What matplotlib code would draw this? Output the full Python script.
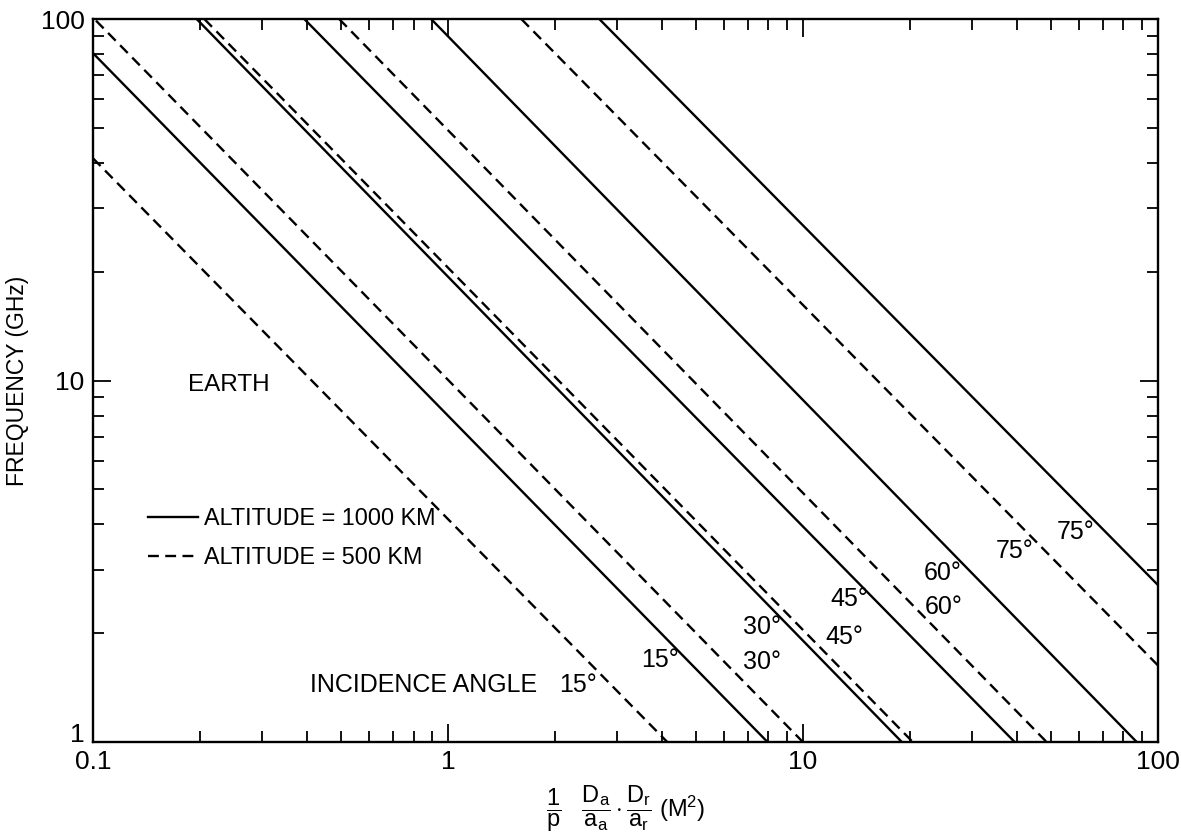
import matplotlib
matplotlib.use('Agg')
import matplotlib.pyplot as plt
from matplotlib.lines import Line2D
from matplotlib.ticker import LogLocator, NullFormatter, FixedLocator, FixedFormatter

# --- DATA (each line = where it enters / leaves the plot) ---
angles = [15, 30, 45, 60, 75]

# altitude 1000 km (solid)
alt1000_x_start = [0.1, 0.196, 0.394, 0.897, 2.67]
alt1000_f_start = [80.5, 100, 100, 100, 100]
alt1000_x_end = [7.95, 19.0, 39.5, 87.2, 100]
alt1000_f_end = [1, 1, 1, 1, 2.72]

# altitude 500 km (dashed)
alt500_x_start = [0.1, 0.102, 0.206, 0.494, 1.61]
alt500_f_start = [41.2, 99, 100, 100, 100]
alt500_x_end = [4.15, 10.0, 20.4, 48.6, 100]
alt500_f_end = [1, 1, 1, 1, 1.63]

x_ticks = [0.1, 1, 10, 100]
x_tick_labels = ['0.1', '1', '10', '100']
y_ticks = [1, 10, 100]
y_tick_labels = ['1', '10', '100']

# label spots for the angle marks (x, f)
solid_label_pos = [(3.96, 1.69), (7.66, 2.08), (13.5, 2.49), (24.7, 2.93), (58.7, 3.81)]
dashed_label_pos = [(2.32, 1.44), (7.66, 1.66), (13.05, 1.95), (24.9, 2.36), (39.5, 3.38)]

# --- STYLE ---
FONT = 'Liberation Sans'
plt.rcParams['font.family'] = [FONT, 'DejaVu Sans']
plt.rcParams['mathtext.fontset'] = 'custom'
plt.rcParams['mathtext.rm'] = FONT
plt.rcParams['mathtext.it'] = FONT
plt.rcParams['mathtext.bf'] = FONT
FS = 18          # text labels
TICK_FS = 19     # tick numbers
LW = 1.7
DASH = (4.6, 2.7)


def main():
    fig = plt.figure(figsize=(11.81, 8.39), dpi=100)
    ax = fig.add_axes([0.0787, 0.1156, 0.9017, 0.8617])

    for i in range(len(angles)):
        ax.plot([alt1000_x_start[i], alt1000_x_end[i]],
                [alt1000_f_start[i], alt1000_f_end[i]],
                color='black', lw=LW, solid_capstyle='butt')
        ax.plot([alt500_x_start[i], alt500_x_end[i]],
                [alt500_f_start[i], alt500_f_end[i]],
                color='black', lw=LW, linestyle=(0, DASH), dash_capstyle='butt')

    ax.set_xscale('log')
    ax.set_yscale('log')
    ax.set_xlim(0.1, 100)
    ax.set_ylim(1, 100)

    # ticks: inward on all four sides
    ax.xaxis.set_major_locator(FixedLocator(x_ticks))
    ax.xaxis.set_major_formatter(FixedFormatter(x_tick_labels))
    ax.yaxis.set_major_locator(FixedLocator(y_ticks))
    ax.yaxis.set_major_formatter(FixedFormatter(y_tick_labels))
    for axis in (ax.xaxis, ax.yaxis):
        axis.set_minor_locator(LogLocator(base=10, subs=range(2, 10)))
        axis.set_minor_formatter(NullFormatter())
    ax.tick_params(which='both', direction='in', top=True, right=True,
                   labelsize=TICK_FS, width=1.3, pad=6)
    ax.tick_params(which='major', length=13)
    ax.tick_params(which='minor', length=8)
    for sp in ax.spines.values():
        sp.set_linewidth(1.7)

    # the "1" of the frequency axis sits a little above "0.1", as in the original
    ax.get_yticklabels()[0].set_va('baseline')

    # angle labels
    for i, a in enumerate(angles):
        ax.text(*solid_label_pos[i], f'{a}°', fontsize=FS, ha='center', va='center')
        ax.text(*dashed_label_pos[i], f'{a}°', fontsize=FS, ha='center', va='center')

    ax.text(0.408, 1.44, 'INCIDENCE ANGLE', fontsize=FS, ha='left', va='center')
    ax.text(0.185, 9.73, 'EARTH', fontsize=FS - 0.5, ha='left', va='center')

    handles = [Line2D([], [], color='black', lw=LW),
               Line2D([], [], color='black', lw=LW, linestyle=(0, DASH))]
    ax.legend(handles, ['ALTITUDE = 1000 KM', 'ALTITUDE = 500 KM'],
              loc='upper left', bbox_to_anchor=(0.0516, 0.325),
              frameon=False, fontsize=16.8, handlelength=2.15,
              handletextpad=0.25, labelspacing=0.7, borderpad=0, borderaxespad=0)

    ax.set_ylabel('FREQUENCY (GHz)', fontsize=16.5)
    ax.yaxis.set_label_coords(-0.06, 0.5)
    ax.set_xlabel(r'$\dfrac{1}{\mathrm{p}}\quad\dfrac{\mathrm{D_a}}{\mathrm{a_a}}\cdot'
                  r'\dfrac{\mathrm{D_r}}{\mathrm{a_r}}\ (\mathrm{M^2})$', fontsize=FS - 1)
    ax.xaxis.set_label_coords(0.5, -0.058)

    fig.savefig('out.png', dpi=100)


if __name__ == '__main__':
    main()
